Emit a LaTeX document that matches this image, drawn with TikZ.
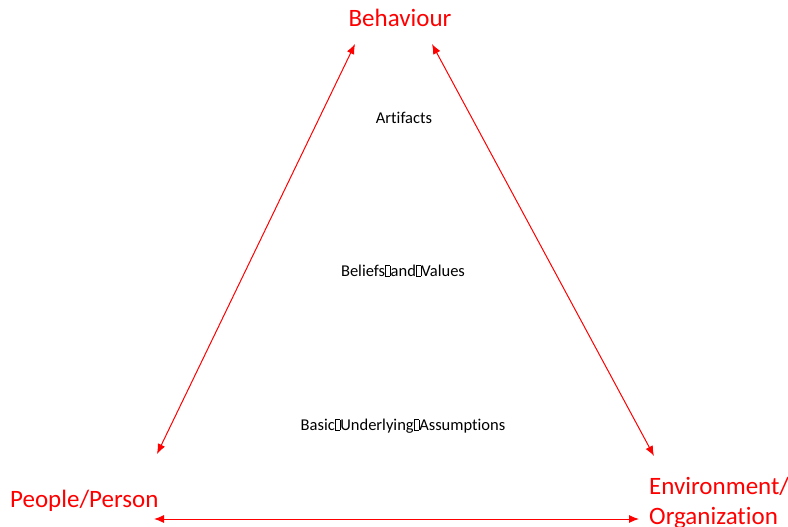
\documentclass[tikz,border=0pt]{standalone}
\usepackage{fontspec}
\setmainfont[Ligatures=NoCommon]{Carlito}
\usetikzlibrary{arrows.meta}
\newcommand{\tofubox}{\kern0.02em{\fboxrule=0.3pt\fboxsep=0pt\fbox{\rule{0pt}{0.62em}\hspace{0.26em}}}\kern0.02em}
\begin{document}
\begin{tikzpicture}[x=1pt,y=-1pt,
  biglabel/.style={text=red,font=\fontsize{25}{30}\selectfont,inner sep=0pt},
  smalllabel/.style={text=black,font=\fontsize{16.5}{20}\selectfont,inner sep=0pt,anchor=base},
  link/.style={draw=red,line width=1pt,{Latex[length=10pt,width=8pt]}-{Latex[length=10pt,width=8pt]}}]
\useasboundingbox (0,0) rectangle (788,527);
\node[biglabel,anchor=base] (beh) at (400,27) {Behaviour};
\node[biglabel,anchor=base west] (ppl) at (10,507) {People/Person};
\node[biglabel,anchor=base west,align=left] (env) at (649,524) {Environment/\\[-0.2pt]Organization};
\node[smalllabel] (art) at (404,124) {Artifacts};
\node[smalllabel] (bel) at (403,276) {Beliefs\tofubox and\tofubox Values};
\node[smalllabel] (bas) at (403,430) {Basic\tofubox Underlying\tofubox Assumptions};
\coordinate (lb) at (157,454);
\coordinate (lt) at (355,44);
\coordinate (rt) at (432,44);
\coordinate (rb) at (654,456);
\coordinate (bl) at (154,519);
\coordinate (br) at (639,519);
\draw[link] (lb) -- (lt);
\draw[link] (rt) -- (rb);
\draw[link] (bl) -- (br);
\end{tikzpicture}
\end{document}
